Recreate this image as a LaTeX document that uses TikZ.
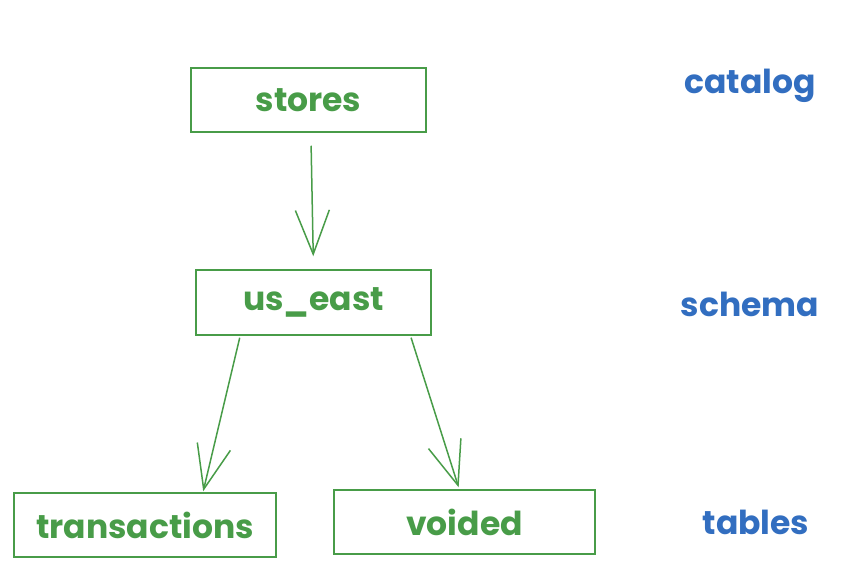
\documentclass[tikz,border=0pt]{standalone}
\usepackage{fontspec}
\setmainfont{Poppins}
\usetikzlibrary{arrows.meta,calc}
\definecolor{grn}{RGB}{72,156,72}
\definecolor{blu}{RGB}{50,110,192}
\tikzset{
  box/.style={draw=grn, line width=1.5pt, text=grn, inner sep=0pt,
    font=\fontsize{33}{38}\selectfont\bfseries},
  lbl/.style={text=blu, font=\fontsize{33}{38}\selectfont\bfseries, inner sep=0pt},
  conn/.style={draw=grn, line width=1.5pt,
    -{Straight Barb[length=44pt,width=34pt,line width=1.5pt]}},
}
\begin{document}
\begin{tikzpicture}[x=1pt,y=-1pt]
\useasboundingbox (0,0) rectangle (856,578);
\node[box, minimum width=235pt, minimum height=64pt] (stores) at (308.5,100) {stores};
\node[box, minimum width=235pt, minimum height=65pt] (useast) at (313.5,302.5) {us\_east};
\node[box, minimum width=262pt, minimum height=64pt] (trans) at (145,525) {transactions};
\node[box, minimum width=261pt, minimum height=64pt] (voided) at (464.5,522) {voided};
\node[lbl] (catalog) at (750,86) {catalog};
\node[lbl] (schema) at (750,304) {schema};
\node[lbl] (tables) at (756,522) {tables};
\coordinate (a1) at ($(stores.south west)!0.51!(stores.south east)$);
\coordinate (a2) at ($(useast.north west)!0.5!(useast.north east)$);
\draw[conn, shorten <=13pt, shorten >=13pt] (a1) -- (a2);
\coordinate (b1) at ($(useast.south west)!0.19!(useast.south east)$);
\coordinate (b2) at ($(trans.north west)!0.72!(trans.north east)$);
\draw[conn, shorten <=2pt, shorten >=1pt] (b1) -- (b2);
\coordinate (c1) at ($(useast.south west)!0.91!(useast.south east)$);
\coordinate (c2) at ($(voided.north west)!0.48!(voided.north east)$);
\draw[conn, shorten <=2pt, shorten >=2pt] (c1) -- (c2);
\end{tikzpicture}
\end{document}
